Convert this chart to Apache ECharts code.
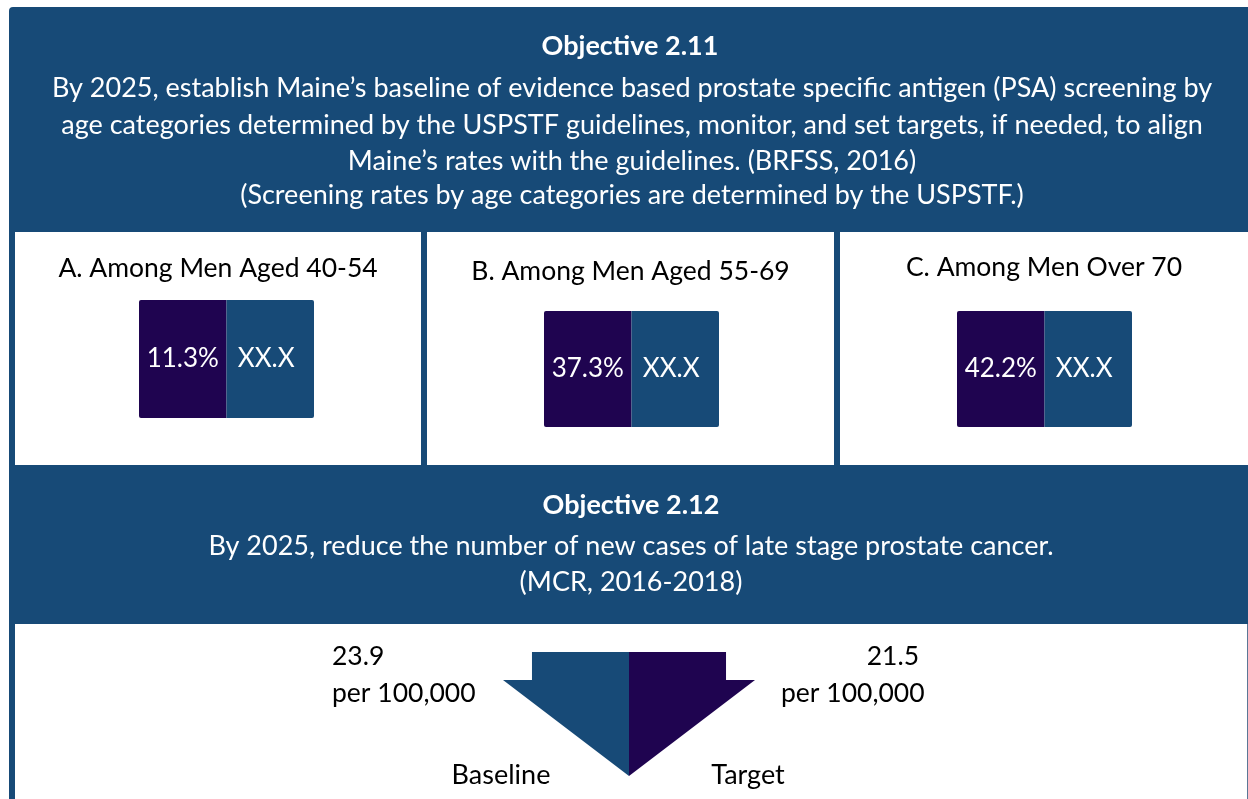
<!DOCTYPE html>
<html>
<head>
<meta charset="utf-8">
<script src="https://cdn.jsdelivr.net/npm/echarts@6/dist/echarts.min.js"></script>
<style>
  html, body { margin: 0; padding: 0; background: #fff; }
  #main { width: 1248px; height: 799px; }
</style>
</head>
<body>
<div id="main"></div>
<script>
// colours
var blue = '#174a77';
var purple = '#1f0450';
var font = 'Lato';

// objective 2.11 : screening by age group
var groups = ['A. Among Men Aged 40-54', 'B. Among Men Aged 55-69', 'C. Among Men Over 70'];
var segments = ['Baseline', 'Target'];
var baseline = [11.3, 37.3, 42.2];
var target = ['XX.X', 'XX.X', 'XX.X'];
var share = [1, 1]; // both halves of each box are the same size

// objective 2.12 : late stage cases per 100,000
var lateStage = [23.9, 21.5];
var lateUnit = 'per 100,000';

var head1 = [
  'By 2025, establish Maine\u2019s baseline of evidence based prostate specific antigen (PSA) screening by',
  'age categories determined by the USPSTF guidelines, monitor, and set targets, if needed, to align',
  'Maine\u2019s rates with the guidelines. (BRFSS, 2016)',
  '(Screening rates by age categories are determined by the USPSTF.)'
];
var head2 = [
  'By 2025, reduce the number of new cases of late stage prostate cancer.',
  '(MCR, 2016-2018)'
];

var chartDom = document.getElementById('main');
var myChart = echarts.init(chartDom);

// boxes / grids
var boxes = [
  { x: 15, w: 406, titleY: 268, grid: { left: 139, top: 300, width: 175, height: 118 } },
  { x: 427, w: 407, titleY: 271, grid: { left: 544, top: 311, width: 175, height: 116 } },
  { x: 840, w: 408, titleY: 267, grid: { left: 957, top: 311, width: 175, height: 116 } }
];

var graphic = [];
// dark background panel
graphic.push({ type: 'rect', z: -10, shape: { x: 9, y: 7, width: 1239, height: 617, r: [4, 0, 0, 0] }, style: { fill: blue } });
graphic.push({ type: 'rect', z: -10, shape: { x: 9, y: 620, width: 6, height: 179 }, style: { fill: blue } });
graphic.push({ type: 'rect', z: -9, shape: { x: 15, y: 624, width: 1232, height: 175 }, style: { fill: '#fff' } });
graphic.push({ type: 'rect', z: -9, shape: { x: 1247, y: 624, width: 1, height: 175 }, style: { fill: '#5a7796' } });

function addText(txt, x, y, size, color, align, bold) {
  graphic.push({
    type: 'text', z: 10, x: x, y: y,
    style: {
      text: txt, fill: color, font: (bold ? 'bold ' : '') + size + 'px ' + font,
      textAlign: align || 'center', textVerticalAlign: 'middle'
    }
  });
}

addText('Objective 2.11', 630, 46, 27, '#fff', 'center', true);
var ys1 = [88, 125, 161, 195];
head1.forEach(function (t, i) { addText(t, 632, ys1[i], 27, '#fff'); });
addText('Objective 2.12', 631, 505, 27, '#fff', 'center', true);
var ys2 = [546, 582];
head2.forEach(function (t, i) { addText(t, 631, ys2[i], 27, '#fff'); });

boxes.forEach(function (b, i) {
  graphic.push({ type: 'rect', z: -9, shape: { x: b.x, y: 232, width: b.w, height: 233 }, style: { fill: '#fff' } });
  addText(groups[i], b.x + b.w / 2, b.titleY, 26.5, '#000');
});

// bottom labels
addText(String(lateStage[0]), 332, 656, 26.5, '#000', 'left');
addText(lateUnit, 332, 693, 26.5, '#000', 'left');
addText(String(lateStage[1]), 919, 656, 26.5, '#000', 'right');
addText(lateUnit, 781, 693, 26.5, '#000', 'left');
addText(segments[0], 501, 775, 27, '#000');
addText(segments[1], 748, 775, 27, '#000');

var grids = [], xAxes = [], yAxes = [], series = [];
boxes.forEach(function (b, i) {
  grids.push(b.grid);
  xAxes.push({ type: 'category', gridIndex: i, data: segments, show: false });
  yAxes.push({ type: 'value', gridIndex: i, min: 0, max: 1, show: false });
  series.push({
    type: 'bar', xAxisIndex: i, yAxisIndex: i, barWidth: '100%',
    data: [
      { value: share[0], itemStyle: { color: purple, borderRadius: [2, 0, 0, 2] }, label: { formatter: baseline[i].toFixed(1) + '%' } },
      { value: share[1], itemStyle: { color: blue, borderRadius: [0, 2, 2, 0] }, label: { formatter: target[i], offset: [-4, 0] } }
    ],
    label: { show: true, position: 'inside', color: '#fff', fontSize: 26, fontFamily: font },
    silent: true
  });
});

// arrow
grids.push({ left: 503, top: 652, width: 252, height: 124 });
xAxes.push({ type: 'category', gridIndex: 3, data: segments, show: false });
yAxes.push({ type: 'value', gridIndex: 3, min: 0, max: 30, show: false });
series.push({
  type: 'custom', xAxisIndex: 3, yAxisIndex: 3, silent: true,
  data: lateStage.map(function (v, i) { return [i, v]; }),
  renderItem: function (params, api) {
    var cs = params.coordSys;
    var cx = cs.x + cs.width / 2;
    var stem = cs.width * 0.385;
    var neck = cs.y + cs.height * 0.226;
    var s = params.dataIndex === 0 ? -1 : 1;
    var pts = [
      [cx + s * stem, cs.y], [cx, cs.y], [cx, cs.y + cs.height],
      [cx + s * cs.width / 2, neck], [cx + s * stem, neck]
    ];
    return {
      type: 'polygon', shape: { points: pts },
      style: { fill: params.dataIndex === 0 ? blue : purple }
    };
  }
});

var option = {
  animation: false,
  grid: grids,
  xAxis: xAxes,
  yAxis: yAxes,
  series: series,
  graphic: graphic
};
myChart.setOption(option);
</script>
</body>
</html>
